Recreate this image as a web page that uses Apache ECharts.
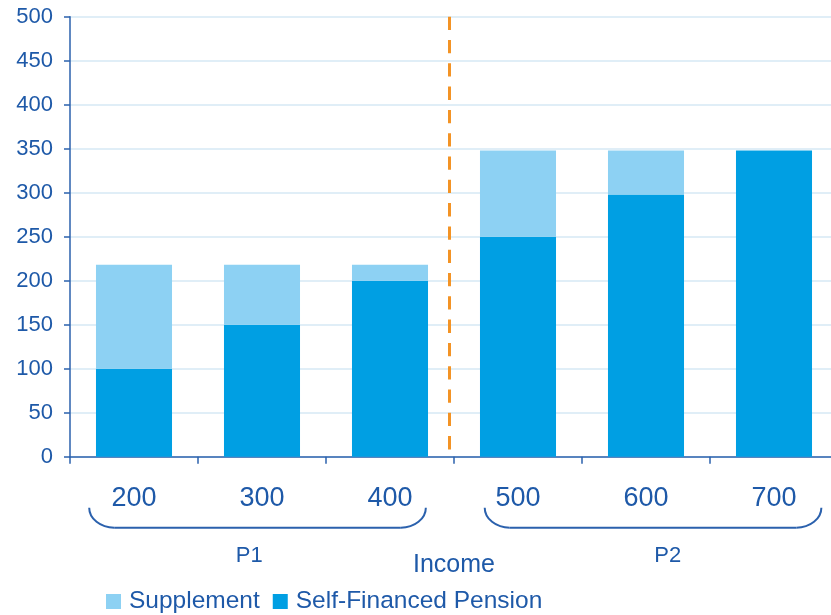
<!DOCTYPE html>
<html>
<head>
<meta charset="utf-8">
<script src="https://cdn.jsdelivr.net/npm/echarts@6/dist/echarts.min.js"></script>
<style>
  html, body { margin: 0; padding: 0; background: #ffffff; }
  #chart { width: 831px; height: 615px; }
</style>
</head>
<body>
<div id="chart"></div>
<script>
// Income levels on the x axis
const incomeLevels = ['200', '300', '400', '500', '600', '700'];
// Pension parts per income level
const selfFinanced = [100, 150, 200, 250, 298, 348];
const supplement = [118, 68, 18, 98, 50, 0];
// Period groups, positions in category units (0 = left edge of axis)
const groupNames = ['P1', 'P2'];
const groupFrom = [0.15, 3.24];
const groupTo = [2.78, 5.87];
const groupLabelAt = [1.40, 4.67];
// Separator between the two periods, in category units
const dividerAt = 2.965;

const FONT = '"Liberation Sans", Arial, Helvetica, sans-serif';
const TEXT = '#1e59a8';
const AXIS = '#2b61ad';
const GRID = '#d6e8f5';

const chart = echarts.init(document.getElementById('chart'), null, { renderer: 'canvas' });

chart.setOption({
  animation: false,
  backgroundColor: '#ffffff',
  textStyle: { fontFamily: FONT },
  grid: { left: 70, width: 768, top: 16.7, height: 440, containLabel: false, outerBoundsMode: 'none' },
  legend: {
    data: ['Supplement', 'Self-Financed Pension'],
    left: 106,
    top: 589,
    padding: 0,
    itemWidth: 15,
    itemHeight: 15,
    itemGap: 13,
    icon: 'rect',
    textStyle: { color: TEXT, fontSize: 24.5, fontFamily: FONT, padding: [0, 0, 0, 3] }
  },
  xAxis: [
    {
      type: 'category',
      data: incomeLevels,
      name: 'Income',
      nameLocation: 'middle',
      nameGap: 96,
      nameTextStyle: { color: TEXT, fontSize: 25, fontFamily: FONT },
      axisLine: { lineStyle: { color: AXIS, width: 1.5 } },
      axisTick: { show: true, length: 7, lineStyle: { color: AXIS, width: 1.5 } },
      axisLabel: { color: TEXT, fontSize: 27, fontFamily: FONT, margin: 28 },
      splitLine: { show: false }
    },
    {
      type: 'value',
      min: 0,
      max: 6,
      show: false
    }
  ],
  yAxis: {
    type: 'value',
    min: 0,
    max: 500,
    interval: 50,
    axisLine: { show: true, lineStyle: { color: AXIS, width: 1.5 } },
    axisTick: { show: true, length: 6, lineStyle: { color: AXIS, width: 1.5 } },
    axisLabel: { color: TEXT, fontSize: 22, fontFamily: FONT, margin: 17 },
    splitLine: { show: true, lineStyle: { color: GRID, width: 1.5 } }
  },
  series: [
    {
      name: 'Self-Financed Pension',
      type: 'bar',
      stack: 'pension',
      data: selfFinanced,
      barCategoryGap: '40.6%',
      itemStyle: { color: '#009fe3' }
    },
    {
      name: 'Supplement',
      type: 'bar',
      stack: 'pension',
      data: supplement,
      barCategoryGap: '40.6%',
      itemStyle: { color: '#8dd1f3' }
    },
    {
      name: 'divider',
      type: 'line',
      xAxisIndex: 1,
      yAxisIndex: 0,
      data: [[dividerAt, 500], [dividerAt, 0]],
      symbol: 'none',
      silent: true,
      lineStyle: { color: '#f39325', width: 3, type: [13.3, 10] },
      z: 5
    }
  ]
});

// Group brackets and period labels below the category labels
function drawGroups() {
  const y0 = chart.convertToPixel({ yAxisIndex: 0 }, 0);
  const top = y0 + 51;
  const bottom = y0 + 71;
  const rx = 25;
  const k = 0.55;
  const elements = [];
  groupNames.forEach(function (name, i) {
    const xl = chart.convertToPixel({ xAxisIndex: 1 }, groupFrom[i]);
    const xr = chart.convertToPixel({ xAxisIndex: 1 }, groupTo[i]);
    const lineStyle = { stroke: AXIS, lineWidth: 2, fill: null };
    elements.push({
      type: 'bezierCurve',
      shape: { x1: xl, y1: top, x2: xl + rx, y2: bottom, cpx1: xl, cpy1: top + (bottom - top) * k, cpx2: xl + rx * (1 - k), cpy2: bottom },
      style: lineStyle, silent: true
    });
    elements.push({
      type: 'line',
      shape: { x1: xl + rx, y1: bottom, x2: xr - rx, y2: bottom },
      style: lineStyle, silent: true
    });
    elements.push({
      type: 'bezierCurve',
      shape: { x1: xr - rx, y1: bottom, x2: xr, y2: top, cpx1: xr - rx * (1 - k), cpy1: bottom, cpx2: xr, cpy2: top + (bottom - top) * k },
      style: lineStyle, silent: true
    });
    elements.push({
      type: 'text',
      x: chart.convertToPixel({ xAxisIndex: 1 }, groupLabelAt[i]),
      y: y0 + 99,
      silent: true,
      style: { text: name, fill: TEXT, fontSize: 22, fontFamily: FONT, align: 'center', verticalAlign: 'middle' }
    });
  });
  chart.setOption({ graphic: elements });
}
drawGroups();
</script>
</body>
</html>
